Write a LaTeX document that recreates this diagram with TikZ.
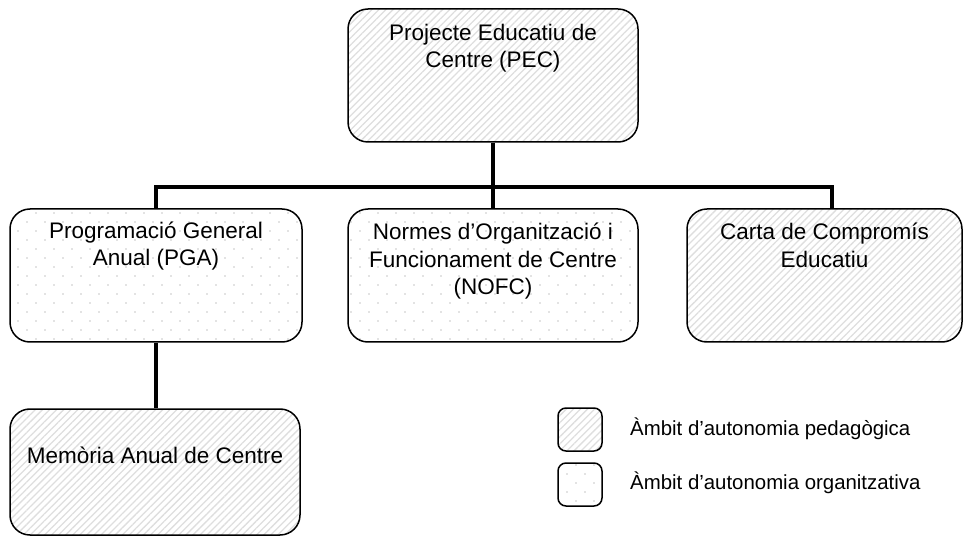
\documentclass[tikz,border=0pt]{standalone}
\usepackage{fontspec}
\setmainfont{Liberation Sans}
\usetikzlibrary{patterns.meta}

\begin{document}
\begin{tikzpicture}[x=1pt,y=-1pt,
  box/.style={draw=black, line width=1.5pt, rounded corners=20pt,
    minimum width=290pt, minimum height=133pt, inner sep=0pt},
  hatchbox/.style={box,
    pattern={Lines[angle=45,distance=5pt,line width=1.3pt]},
    pattern color=black!13},
  dotbox/.style={box,
    preaction={pattern={Dots[distance=18pt,radius=0.9pt]}, pattern color=black!22},
    preaction={pattern={Dots[distance=18pt,radius=0.9pt,xshift=9pt,yshift=9pt]}, pattern color=black!22}},
  boxtext/.style={anchor=north, inner sep=0pt, align=center,
    font=\fontsize{22.5}{27.5}\selectfont},
  legtext/.style={anchor=base west, inner sep=0pt,
    font=\fontsize{20.4}{24}\selectfont},
  legbox/.style={minimum width=44pt, minimum height=43pt, rounded corners=8pt},
  conn/.style={draw=black, line width=4.5pt, line join=miter}
]
\useasboundingbox (0,0) rectangle (964,537);

% boxes
\node[hatchbox] (pec) at (493,75.5) {};
\node[dotbox] (pga) at (156,275.5) [minimum width=292pt] {};
\node[dotbox] (nofc) at (493,275.5) {};
\node[hatchbox] (carta) at (824.5,275.5) [minimum width=275pt] {};
\node[hatchbox] (mem) at (155,472) [minimum height=126pt] {};

% texts
\node[boxtext] (pect) at ([yshift=-15.5pt]pec.north) {Projecte Educatiu de\\Centre (PEC)};
\node[boxtext] (pgat) at ([yshift=-13pt]pga.north) {Programació General\\Anual (PGA)};
\node[boxtext] (nofct) at ([yshift=-14.5pt]nofc.north) {Normes d’Organització i\\Funcionament de Centre\\(NOFC)};
\node[boxtext] (cartat) at ([yshift=-14.5pt]carta.north) {Carta de Compromís\\Educatiu};
\node[boxtext, anchor=center] (memt) at ([yshift=17pt]mem.center) {Memòria Anual de Centre};

% connectors
\coordinate (jl) at (156,187);
\coordinate (jc) at (493,187);
\coordinate (jr) at (832,187);
\draw[conn] (pec.south) -- (jc);
\draw[conn] (pga.north) -- (jl) -- (jr) -- (jr |- carta.north);
\draw[conn] (jc) -- (nofc.north);
\draw[conn] (pga.south) -- (pga.south |- mem.north);

% legend
\node[hatchbox, legbox] (leg1) at (580,429.5) {};
\node[dotbox, legbox] (leg2) at (580,484.5) {};
\node[legtext] (leg1t) at (630,435) {Àmbit d’autonomia pedagògica};
\node[legtext] (leg2t) at (630,489) {Àmbit d’autonomia organitzativa};
\end{tikzpicture}
\end{document}
